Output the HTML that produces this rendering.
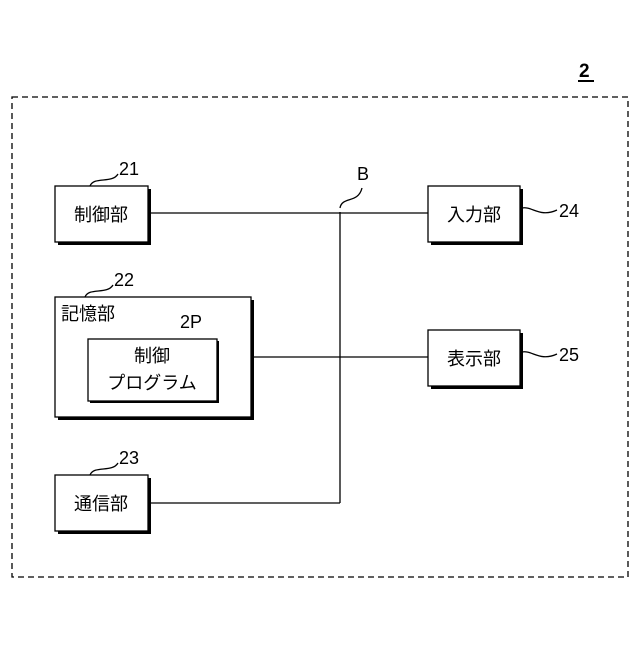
<!DOCTYPE html>
<html><head><meta charset="utf-8"><style>
body{margin:0;background:#fff}
svg text{font-family:"Liberation Sans","Noto Sans CJK JP",sans-serif;fill:#000}
</style></head><body>
<svg width="640" height="640" viewBox="0 0 640 640" xmlns="http://www.w3.org/2000/svg">
<rect x="12" y="97" width="616" height="480" fill="none" stroke="#000" stroke-width="1.3" stroke-dasharray="6,4"/>
<text x="579" y="77" font-size="19" font-weight="bold">2</text>
<line x1="578" y1="81" x2="594" y2="81" stroke="#000" stroke-width="2"/>
<g stroke="#000" fill="none" stroke-width="1.3">
<line x1="148" y1="213" x2="428" y2="213"/>
<line x1="251" y1="357" x2="428" y2="357"/>
<line x1="148" y1="503" x2="340" y2="503"/>
<line x1="340" y1="212" x2="340" y2="503"/>
<path d="M340 208 C342 196 358 204 362 188"/>
<path d="M90 186 C94 176 112 184 118 174"/>
<path d="M85 297 C89 287 107 295 113 285"/>
<path d="M150 339 C154 329 172 337 178 327"/>
<path d="M90 475 C94 465 112 473 118 463"/>
<path d="M522 208 C532 206 540 218 557 210"/>
<path d="M522 352 C532 350 540 362 557 354"/>
</g>
<g fill="#000">
<rect x="58" y="189" width="93" height="56"/>
<rect x="58" y="300" width="196" height="120"/>
<rect x="58" y="478" width="93" height="56"/>
<rect x="431" y="189" width="92" height="56"/>
<rect x="431" y="333" width="92" height="56"/>
</g>
<g fill="#fff" stroke="#000" stroke-width="1.3">
<rect x="55" y="186" width="93" height="56"/>
<rect x="55" y="297" width="196" height="120"/>
<rect x="55" y="475" width="93" height="56"/>
<rect x="428" y="186" width="92" height="56"/>
<rect x="428" y="330" width="92" height="56"/>
</g>
<rect x="90" y="341" width="129" height="62" fill="#000"/>
<rect x="88" y="339" width="129" height="62" fill="#fff" stroke="#000" stroke-width="1.3"/>
<g font-size="18">
<text x="101" y="221" text-anchor="middle">制御部</text>
<text x="61" y="320">記憶部</text>
<text x="152" y="362" text-anchor="middle">制御</text>
<text x="152" y="389" text-anchor="middle">プログラム</text>
<text x="101" y="510" text-anchor="middle">通信部</text>
<text x="474" y="221" text-anchor="middle">入力部</text>
<text x="474" y="365" text-anchor="middle">表示部</text>
</g>
<g font-size="18">
<text x="119" y="175">21</text>
<text x="114" y="286">22</text>
<text x="180" y="328">2P</text>
<text x="119" y="464">23</text>
<text x="559" y="217">24</text>
<text x="559" y="361">25</text>
<text x="357" y="180">B</text>
</g>
</svg>
</body></html>
